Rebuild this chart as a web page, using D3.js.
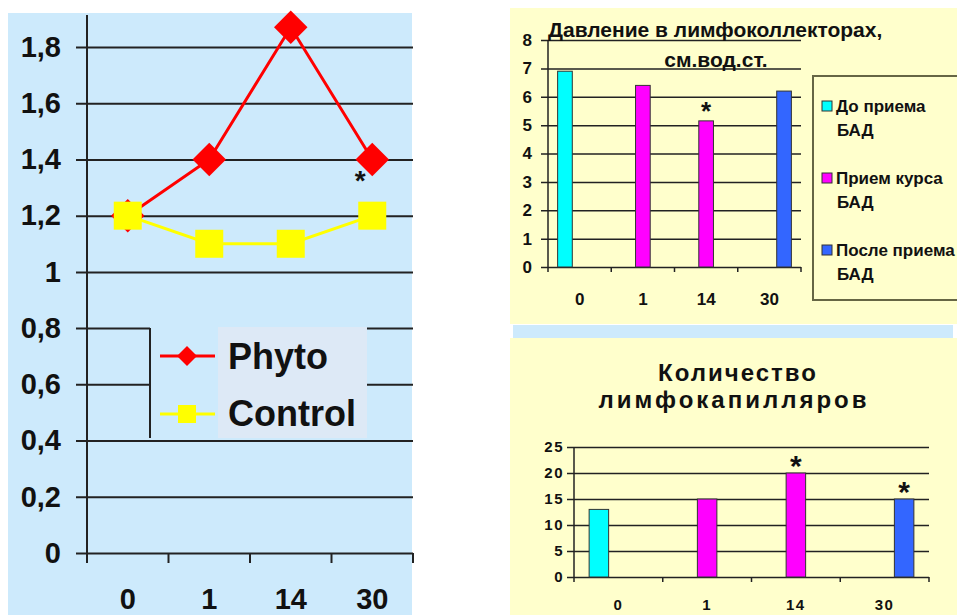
<!DOCTYPE html>
<html>
<head>
<meta charset="utf-8">
<script src="https://cdn.jsdelivr.net/npm/d3@7"></script>
<style>
  body { margin: 0; background: #fff; }
  svg { display: block; font-family: "Liberation Sans", Arial, sans-serif; font-weight: bold; }
</style>
</head>
<body>
<div id="chart"></div>
<script>
// categories (days)
const categories = ["0", "1", "14", "30"];

// left chart: line series
const phyto = [1.2, 1.4, 1.87, 1.4];
const control = [1.2, 1.1, 1.1, 1.2];
const lineTicks = [0, 0.2, 0.4, 0.6, 0.8, 1, 1.2, 1.4, 1.6, 1.8];
const lineStars = ["30"];

// top right: pressure in lymph collectors
const seriesNames = ["До приема БАД", "Прием курса БАД", "После приема БАД"];
const pressureBefore = [6.9, 0, 0, 0];
const pressureCourse = [0, 6.4, 5.15, 0];
const pressureAfter = [0, 0, 0, 6.2];
const pressureTicks = [0, 1, 2, 3, 4, 5, 6, 7, 8];
const pressureStars = ["14"];

// bottom right: number of lymph capillaries
const capBefore = [13, 0, 0, 0];
const capCourse = [0, 15, 20, 0];
const capAfter = [0, 0, 0, 15];
const capTicks = [0, 5, 10, 15, 20, 25];
const capStars = ["14", "30"];

const seriesColors = ["#00ffff", "#ff00ff", "#3366ff"];

const svg = d3.select("#chart").append("svg")
  .attr("width", 957).attr("height", 615);

// backgrounds
svg.append("rect").attr("x", 8).attr("y", 13).attr("width", 404).attr("height", 602).attr("fill", "#cdeafc");
svg.append("rect").attr("x", 510).attr("y", 8).attr("width", 447).attr("height", 316).attr("fill", "#ffffcc");
svg.append("rect").attr("x", 513).attr("y", 325).attr("width", 440).attr("height", 13).attr("fill", "#cdeafc");
svg.append("rect").attr("x", 510).attr("y", 338).attr("width", 447).attr("height", 277).attr("fill", "#ffffcc");

const fmtComma = d => String(+d.toFixed(1)).replace(".", ",");

// ---------- left line chart ----------
{
  const x = d3.scaleBand().domain(categories).range([87, 413]);
  const y = d3.scaleLinear().domain([0, 1.8]).range([553, 47]);
  const g = svg.append("g");

  g.append("g")
    .attr("transform", "translate(87,0)")
    .call(d3.axisLeft(y).tickValues(lineTicks).tickSize(0).tickFormat(fmtComma))
    .call(a => a.select(".domain").remove())
    .call(a => a.selectAll(".tick line").attr("x1", -11).attr("x2", 326).attr("stroke", "#222").attr("stroke-width", 2))
    .call(a => a.selectAll(".tick text").attr("x", -26).attr("fill", "#111")
      .style("font-size", "29px").style("font-family", "Liberation Sans, Arial").style("font-weight", "bold"));

  // axes
  g.append("line").attr("x1", 87).attr("x2", 87).attr("y1", 15).attr("y2", 563).attr("stroke", "#222").attr("stroke-width", 2);
  g.append("g")
    .attr("transform", "translate(0,553)")
    .call(d3.axisBottom(x).tickSize(0))
    .call(a => a.select(".domain").remove())
    .call(a => a.selectAll(".tick line").remove())
    .call(a => a.selectAll(".tick text").attr("y", 35).attr("fill", "#111")
      .style("font-size", "29px").style("font-family", "Liberation Sans, Arial").style("font-weight", "bold"));
  g.selectAll(".xtick").data(categories).enter().append("line")
    .attr("x1", d => x(d) + x.bandwidth()).attr("x2", d => x(d) + x.bandwidth())
    .attr("y1", 553).attr("y2", 563).attr("stroke", "#222").attr("stroke-width", 2);

  const cx = (d, i) => x(categories[i]) + x.bandwidth() / 2;
  const line = d3.line().x(cx).y(d => y(d));

  g.append("path").datum(phyto).attr("d", line).attr("fill", "none").attr("stroke", "#ff0000").attr("stroke-width", 3);
  g.selectAll(".dia").data(phyto).enter().append("path")
    .attr("transform", (d, i) => `translate(${cx(d, i)},${y(d)}) rotate(45)`)
    .attr("d", d3.symbol(d3.symbolSquare, 560)())
    .attr("fill", "#ff0000");

  g.append("path").datum(control).attr("d", line).attr("fill", "none").attr("stroke", "#ffff00").attr("stroke-width", 3);
  g.selectAll(".sq").data(control).enter().append("rect")
    .attr("x", (d, i) => cx(d, i) - 14).attr("y", d => y(d) - 14)
    .attr("width", 28).attr("height", 28).attr("fill", "#ffff00");

  lineStars.forEach(c => {
    const i = categories.indexOf(c);
    g.append("text").attr("x", cx(0, i) - 12).attr("y", y(phyto[i]) + 31)
      .attr("text-anchor", "middle").style("font-size", "28px").attr("fill", "#111").text("*");
  });

  // legend
  g.append("rect").attr("x", 150).attr("y", 327).attr("width", 217).attr("height", 111).attr("fill", "#cdeafc");
  g.append("rect").attr("x", 218).attr("y", 327).attr("width", 149).attr("height", 111).attr("fill", "#dde9f6");
  g.append("line").attr("x1", 150).attr("x2", 150).attr("y1", 328).attr("y2", 438).attr("stroke", "#222").attr("stroke-width", 2);
  g.append("line").attr("x1", 160).attr("x2", 215).attr("y1", 356).attr("y2", 356).attr("stroke", "#ff0000").attr("stroke-width", 3);
  g.append("path").attr("transform", "translate(187,356) rotate(45)").attr("d", d3.symbol(d3.symbolSquare, 200)()).attr("fill", "#ff0000");
  g.append("line").attr("x1", 160).attr("x2", 215).attr("y1", 414).attr("y2", 414).attr("stroke", "#ffff00").attr("stroke-width", 3);
  g.append("rect").attr("x", 178).attr("y", 405).attr("width", 18).attr("height", 18).attr("fill", "#ffff00");
  g.append("text").attr("x", 228).attr("y", 369).style("font-size", "36px").attr("fill", "#111").text("Phyto");
  g.append("text").attr("x", 228).attr("y", 426).style("font-size", "36px").attr("fill", "#111").text("Control");
}

// ---------- grouped bar chart helper ----------
function barChart(opt) {
  const g = svg.append("g");
  const x0 = d3.scaleBand().domain(categories).range([opt.left, opt.right]);
  const bw = x0.bandwidth();
  const x1 = d3.scaleBand().domain([0, 1, 2]).range([bw / 2 - opt.group / 2, bw / 2 + opt.group / 2]);
  const y = d3.scaleLinear().domain([0, opt.ticks[opt.ticks.length - 1]]).range([opt.bottom, opt.top]);

  g.append("g")
    .attr("transform", `translate(${opt.left},0)`)
    .call(d3.axisLeft(y).tickValues(opt.ticks).tickSize(0))
    .call(a => a.select(".domain").remove())
    .call(a => a.selectAll(".tick line").attr("x1", -7).attr("x2", opt.right - opt.left).attr("stroke", "#222").attr("stroke-width", 1.5))
    .call(a => a.selectAll(".tick text").attr("x", -opt.labelGap).attr("fill", "#111")
      .style("font-size", opt.font + "px").style("letter-spacing", opt.spacing + "px")
      .style("font-family", "Liberation Sans, Arial").style("font-weight", "bold"));
  g.append("line").attr("x1", opt.left).attr("x2", opt.left).attr("y1", opt.top).attr("y2", opt.bottom + 5).attr("stroke", "#222").attr("stroke-width", 1.5);
  g.append("g")
    .attr("transform", `translate(0,${opt.bottom})`)
    .call(d3.axisBottom(x0).tickSize(0))
    .call(a => a.select(".domain").remove())
    .call(a => a.selectAll(".tick text").attr("y", opt.xLabelDy).attr("fill", "#111")
      .style("font-size", opt.font + "px").style("letter-spacing", opt.spacing + "px")
      .style("font-family", "Liberation Sans, Arial").style("font-weight", "bold"));
  g.selectAll(".xtick").data(categories).enter().append("line")
    .attr("x1", d => x0(d) + bw).attr("x2", d => x0(d) + bw)
    .attr("y1", opt.bottom).attr("y2", opt.bottom + 5).attr("stroke", "#222").attr("stroke-width", 1.5);

  const rows = [];
  opt.series.forEach((vals, s) => vals.forEach((v, i) => { if (v > 0) rows.push({ s, c: categories[i], v }); }));
  g.selectAll(".bar").data(rows).enter().append("rect")
    .attr("x", d => x0(d.c) + x1(d.s)).attr("width", x1.bandwidth())
    .attr("y", d => y(d.v)).attr("height", d => y(0) - y(d.v))
    .attr("fill", d => seriesColors[d.s]).attr("stroke", "#333").attr("stroke-width", 1);

  opt.stars.forEach(c => {
    const r = rows.find(d => d.c === c);
    g.append("text").attr("x", x0(c) + x1(r.s) + x1.bandwidth() / 2).attr("y", y(r.v) - opt.starGap)
      .attr("text-anchor", "middle").style("font-size", opt.starFont + "px").attr("fill", "#111").text("*");
  });
  return g;
}

// top right chart
const pressureChart = barChart({
  left: 548, right: 801, top: 40, bottom: 267, group: 44,
  ticks: pressureTicks, series: [pressureBefore, pressureCourse, pressureAfter],
  font: 17, spacing: 0, labelGap: 16, xLabelDy: 26, stars: pressureStars, starGap: 1, starFont: 26
});
pressureChart.append("text").attr("x", 548).attr("y", 37).style("font-size", "21px").attr("fill", "#111").text("Давление в лимфоколлекторах,");
pressureChart.append("text").attr("x", 716).attr("y", 67).attr("text-anchor", "middle").style("font-size", "21px").attr("fill", "#111").text("см.вод.ст.");

// legend top right
const leg = svg.append("g");
leg.append("rect").attr("x", 813).attr("y", 76).attr("width", 150).attr("height", 224)
  .attr("fill", "#ffffcc").attr("stroke", "#666644").attr("stroke-width", 2);
const legLines = [["До приема", "БАД"], ["Прием курса", "БАД"], ["После приема", "БАД"]];
seriesNames.forEach((n, i) => {
  const yy = 106 + i * 72;
  leg.append("rect").attr("x", 822).attr("y", yy - 5).attr("width", 10).attr("height", 10)
    .attr("fill", seriesColors[i]).attr("stroke", "#333").attr("stroke-width", 1);
  leg.append("text").attr("x", 836).attr("y", yy + 6).style("font-size", "17px").attr("fill", "#111").text(legLines[i][0]);
  leg.append("text").attr("x", 837).attr("y", yy + 30).style("font-size", "17px").attr("fill", "#111").text(legLines[i][1]);
});

// bottom right chart
const capChart = barChart({
  left: 574, right: 929, top: 447, bottom: 577, group: 58.5,
  ticks: capTicks, series: [capBefore, capCourse, capAfter],
  font: 15, spacing: 1.5, labelGap: 10, xLabelDy: 22, stars: capStars, starGap: -3, starFont: 30
});
capChart.append("text").attr("x", 738).attr("y", 381).attr("text-anchor", "middle")
  .style("font-size", "24px").style("letter-spacing", "2px").attr("fill", "#111").text("Количество");
capChart.append("text").attr("x", 734).attr("y", 408).attr("text-anchor", "middle")
  .style("font-size", "24px").style("letter-spacing", "3px").attr("fill", "#111").text("лимфокапилляров");
</script>
</body>
</html>
